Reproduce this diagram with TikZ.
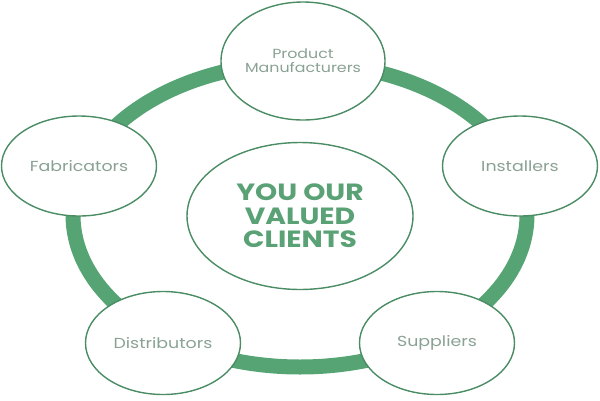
\documentclass[tikz,border=0pt]{standalone}
\usepackage{fontspec}
\setmainfont{Poppins}[FakeStretch=1.2]
\usetikzlibrary{shapes.geometric}
\definecolor{ringgreen}{RGB}{86,164,116}
\definecolor{edgegreen}{RGB}{74,140,100}
\definecolor{labelgrey}{RGB}{138,162,148}
\definecolor{titlegreen}{RGB}{90,162,118}
\tikzset{
  ring/.style={draw=ringgreen, line width=15pt},
  member/.style={ellipse, draw=edgegreen, line width=1.4pt, fill=white,
    minimum width=155pt, minimum height=100pt, inner sep=0pt,
    text=labelgrey, font=\fontsize{14.5}{16}\selectfont, align=center},
  hub/.style={ellipse, draw=edgegreen, line width=1.4pt, fill=white,
    minimum width=226pt, minimum height=147pt, inner sep=0pt,
    text=titlegreen, font=\fontsize{23.5}{23.5}\selectfont\bfseries, align=center}
}
\begin{document}
\begin{tikzpicture}[x=1pt, y=-1pt]
\useasboundingbox (0,0) rectangle (600,400);
\coordinate (c) at (300,215);
\draw[ring] (c) ellipse [x radius=227, y radius=152];
\node[hub] (hub) at (300,216) {YOU OUR\\VALUED\\CLIENTS};
\node[member, minimum width=163pt, minimum height=118pt, font=\fontsize{13.2}{14}\selectfont] (pm) at (303,61) {Product\\Manufacturers};
\node[member, text depth=0pt] (fab) at (79,166) {Fabricators};
\node[member] (ins) at (520,166) {Installers};
\node[member, minimum height=103pt] (dist) at (163,343) {Distributors};
\node[member, minimum height=103pt] (sup) at (437,343) {Suppliers};
\end{tikzpicture}
\end{document}
